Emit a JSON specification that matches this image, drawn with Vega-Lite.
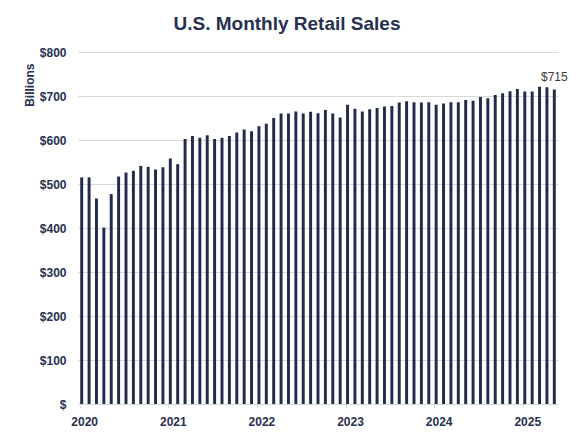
{
  "$schema": "https://vega.github.io/schema/vega-lite/v6.json",
  "autosize": "none",
  "width": 480,
  "height": 352,
  "padding": {"left": 78, "top": 52, "right": 17, "bottom": 33},
  "background": "white",
  "title": {
    "text": "U.S. Monthly Retail Sales",
    "font": "Liberation Sans",
    "fontSize": 19,
    "fontWeight": "bold",
    "color": "#27304f",
    "anchor": "middle",
    "dx": -31,
    "offset": 12
  },
  "data": {
    "values": [
      {"month": "2020-01", "sales": 515}, {"month": "2020-02", "sales": 515}, {"month": "2020-03", "sales": 467}, {"month": "2020-04", "sales": 401},
      {"month": "2020-05", "sales": 477}, {"month": "2020-06", "sales": 517}, {"month": "2020-07", "sales": 526}, {"month": "2020-08", "sales": 530},
      {"month": "2020-09", "sales": 541}, {"month": "2020-10", "sales": 539}, {"month": "2020-11", "sales": 533}, {"month": "2020-12", "sales": 538},
      {"month": "2021-01", "sales": 558}, {"month": "2021-02", "sales": 545}, {"month": "2021-03", "sales": 602}, {"month": "2021-04", "sales": 609},
      {"month": "2021-05", "sales": 605}, {"month": "2021-06", "sales": 611}, {"month": "2021-07", "sales": 602}, {"month": "2021-08", "sales": 605},
      {"month": "2021-09", "sales": 609}, {"month": "2021-10", "sales": 617}, {"month": "2021-11", "sales": 624}, {"month": "2021-12", "sales": 620},
      {"month": "2022-01", "sales": 631}, {"month": "2022-02", "sales": 637}, {"month": "2022-03", "sales": 650}, {"month": "2022-04", "sales": 660},
      {"month": "2022-05", "sales": 660}, {"month": "2022-06", "sales": 665}, {"month": "2022-07", "sales": 660}, {"month": "2022-08", "sales": 664},
      {"month": "2022-09", "sales": 661}, {"month": "2022-10", "sales": 668}, {"month": "2022-11", "sales": 660}, {"month": "2022-12", "sales": 651},
      {"month": "2023-01", "sales": 680}, {"month": "2023-02", "sales": 671}, {"month": "2023-03", "sales": 665}, {"month": "2023-04", "sales": 670},
      {"month": "2023-05", "sales": 673}, {"month": "2023-06", "sales": 676}, {"month": "2023-07", "sales": 677}, {"month": "2023-08", "sales": 685},
      {"month": "2023-09", "sales": 688}, {"month": "2023-10", "sales": 686}, {"month": "2023-11", "sales": 685}, {"month": "2023-12", "sales": 686},
      {"month": "2024-01", "sales": 680}, {"month": "2024-02", "sales": 683}, {"month": "2024-03", "sales": 686}, {"month": "2024-04", "sales": 686},
      {"month": "2024-05", "sales": 691}, {"month": "2024-06", "sales": 689}, {"month": "2024-07", "sales": 698}, {"month": "2024-08", "sales": 695},
      {"month": "2024-09", "sales": 702}, {"month": "2024-10", "sales": 706}, {"month": "2024-11", "sales": 711}, {"month": "2024-12", "sales": 716},
      {"month": "2025-01", "sales": 710}, {"month": "2025-02", "sales": 710}, {"month": "2025-03", "sales": 721}, {"month": "2025-04", "sales": 720},
      {"month": "2025-05", "sales": 715}
    ]
  },
  "encoding": {
    "x": {
      "field": "month",
      "type": "ordinal",
      "sort": null,
      "scale": {"paddingInner": 0.6, "paddingOuter": 0.3},
      "axis": {
        "title": null,
        "values": ["2020-01", "2021-01", "2022-01", "2023-01", "2024-01", "2025-01"],
        "labelExpr": "slice(datum.value, 0, 4)",
        "labelAngle": 0,
        "labelFont": "Liberation Sans",
        "labelFontSize": 12,
        "labelFontWeight": "bold",
        "labelColor": "#27304f",
        "labelPadding": 8,
        "domainColor": "#d9d9d9",
        "tickColor": "#d9d9d9",
        "tickSize": 4,
        "bandPosition": 0,
        "labelOffset": 3
      }
    },
    "y": {
      "field": "sales",
      "type": "quantitative",
      "scale": {"domain": [0, 800]},
      "axis": {
        "title": "Billions",
        "titleFont": "Liberation Sans",
        "titleFontSize": 12,
        "titleFontWeight": "bold",
        "titleColor": "#27304f",
        "titleAnchor": "end",
        "titleY": 11,
        "titlePadding": 3,
        "values": [0, 100, 200, 300, 400, 500, 600, 700, 800],
        "labelExpr": "datum.value == 0 ? '$' : '$' + datum.value",
        "labelFont": "Liberation Sans",
        "labelFontSize": 12,
        "labelFontWeight": "bold",
        "labelColor": "#27304f",
        "labelPadding": 12,
        "ticks": false,
        "domain": false,
        "gridColor": "#d9d9d9",
        "gridWidth": 1
      }
    }
  },
  "layer": [
    {"mark": {"type": "bar", "color": "#222b4b"}},
    {
      "transform": [{"filter": "datum.month == '2025-05'"}],
      "mark": {"type": "text", "dy": -12, "font": "Liberation Sans", "fontSize": 12, "color": "#404040"},
      "encoding": {"text": {"field": "sales", "type": "quantitative", "format": "$.0f"}}
    }
  ],
  "config": {"view": {"stroke": null}}
}
